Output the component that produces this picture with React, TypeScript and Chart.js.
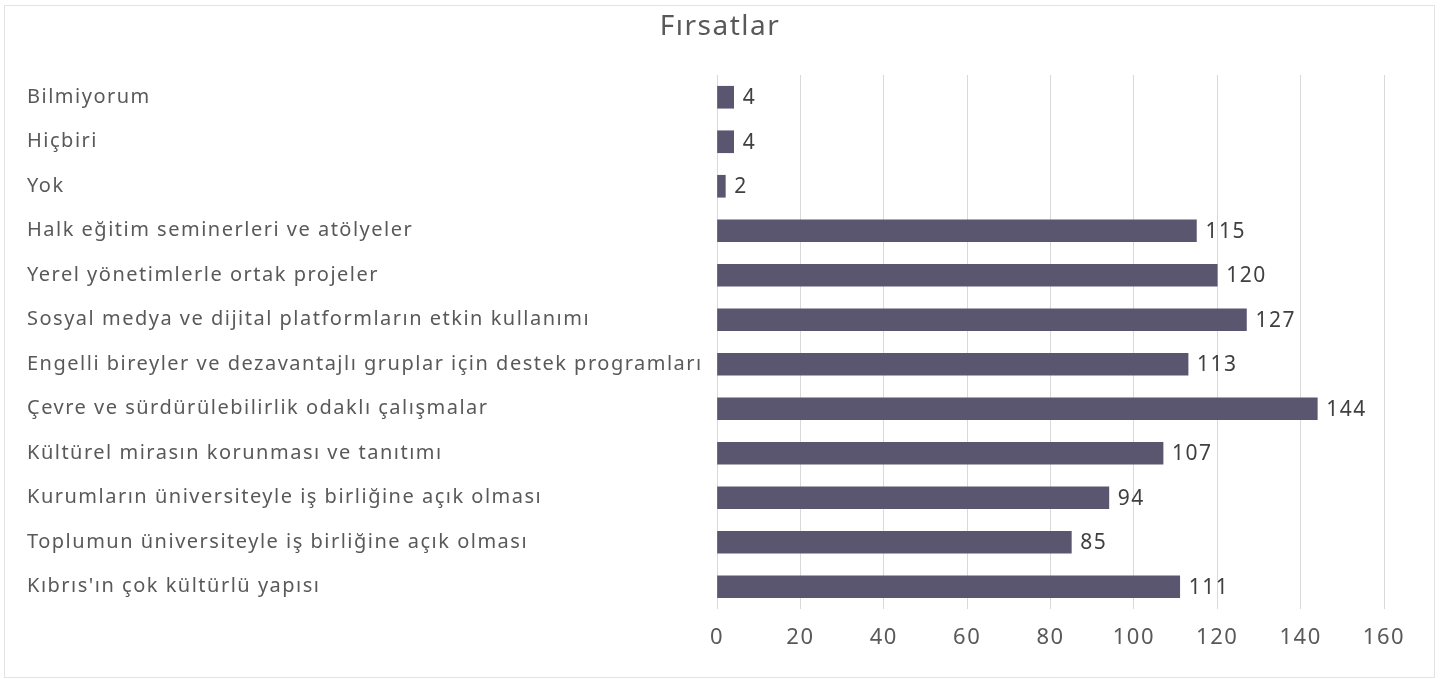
import React, { useEffect, useRef } from "react";
import { Chart, registerables } from "chart.js";

Chart.register(...registerables);

const chartTitle = "Fırsatlar";
const categories = [
  "Bilmiyorum",
  "Hiçbiri",
  "Yok",
  "Halk eğitim seminerleri ve atölyeler",
  "Yerel yönetimlerle ortak projeler",
  "Sosyal medya ve dijital platformların etkin kullanımı",
  "Engelli bireyler ve dezavantajlı gruplar için destek programları",
  "Çevre ve sürdürülebilirlik odaklı çalışmalar",
  "Kültürel mirasın korunması ve tanıtımı",
  "Kurumların üniversiteyle iş birliğine açık olması",
  "Toplumun üniversiteyle iş birliğine açık olması",
  "Kıbrıs'ın çok kültürlü yapısı",
];
const values = [4, 4, 2, 115, 120, 127, 113, 144, 107, 94, 85, 111];
const xMin = 0;
const xMax = 160;
const xStep = 20;

const FONT = "'Noto Sans', 'Open Sans', sans-serif";
const SPACING = "1.5px";

const spacingPlugin = {
  id: "spacing",
  beforeUpdate(chart: any) {
    chart.ctx.letterSpacing = SPACING;
  },
  beforeLayout(chart: any) {
    chart.ctx.letterSpacing = SPACING;
  },
  beforeDraw(chart: any) {
    chart.ctx.letterSpacing = SPACING;
  },
};

const titlePlugin = {
  id: "centeredTitle",
  afterDraw(chart: any) {
    const ctx = chart.ctx;
    ctx.save();
    ctx.letterSpacing = SPACING;
    ctx.font = `28px ${FONT}`;
    ctx.fillStyle = "#595959";
    ctx.textAlign = "center";
    ctx.textBaseline = "middle";
    ctx.fillText(chartTitle, chart.width / 2, 27);
    ctx.restore();
  },
};

const valueLabels = {
  id: "valueLabels",
  afterDatasetsDraw(chart: any) {
    const ctx = chart.ctx;
    const meta = chart.getDatasetMeta(0);
    ctx.save();
    ctx.letterSpacing = SPACING;
    ctx.font = `21px ${FONT}`;
    ctx.fillStyle = "#404040";
    ctx.textAlign = "left";
    ctx.textBaseline = "middle";
    meta.data.forEach((bar: any, i: number) => {
      ctx.fillText(String(values[i]), bar.x + 9, bar.y + 1);
    });
    ctx.restore();
  },
};

export default function App() {
  const ref = useRef<HTMLCanvasElement | null>(null);

  useEffect(() => {
    document.body.style.margin = "0";
    if (!ref.current) return;
    const chart = new Chart(ref.current, {
      type: "bar",
      data: {
        labels: categories,
        datasets: [
          {
            data: values,
            backgroundColor: "#5b5670",
            borderWidth: 0,
            barThickness: 22,
          },
        ],
      },
      options: {
        indexAxis: "y",
        animation: false,
        responsive: false,
        maintainAspectRatio: false,
        layout: { padding: { left: 27, right: 56, top: 75, bottom: 0 } },
        plugins: {
          legend: { display: false },
          tooltip: { enabled: false },
          title: { display: false },
        },
        scales: {
          x: {
            min: xMin,
            max: xMax,
            ticks: {
              stepSize: xStep,
              color: "#595959",
              font: { family: FONT, size: 22 },
              padding: 16,
              maxRotation: 0,
              autoSkip: false,
            },
            grid: { color: "#d9d9d9", drawTicks: false, lineWidth: 1 },
            border: { display: false },
            afterFit: (scale: any) => {
              scale.height = 70;
            },
          },
          y: {
            ticks: {
              color: "#595959",
              font: { family: FONT, size: 20 },
              crossAlign: "far",
              autoSkip: false,
            },
            grid: { display: false, drawTicks: false },
            border: { display: false },
            afterFit: (scale: any) => {
              scale.width = 690;
            },
          },
        },
      },
      plugins: [spacingPlugin, valueLabels, titlePlugin],
    });
    return () => chart.destroy();
  }, []);

  return (
    <div style={{ position: "fixed", left: 0, top: 0, width: 1440, height: 679, background: "#fff" }}>
      <canvas ref={ref} width={1440} height={679} style={{ position: "absolute", left: 0, top: 0, width: 1440, height: 679 }} />
      <div
        style={{
          position: "absolute",
          left: 4,
          top: 5,
          width: 1429,
          height: 671,
          border: "1px solid #e3e3e3",
          pointerEvents: "none",
        }}
      />
    </div>
  );
}
